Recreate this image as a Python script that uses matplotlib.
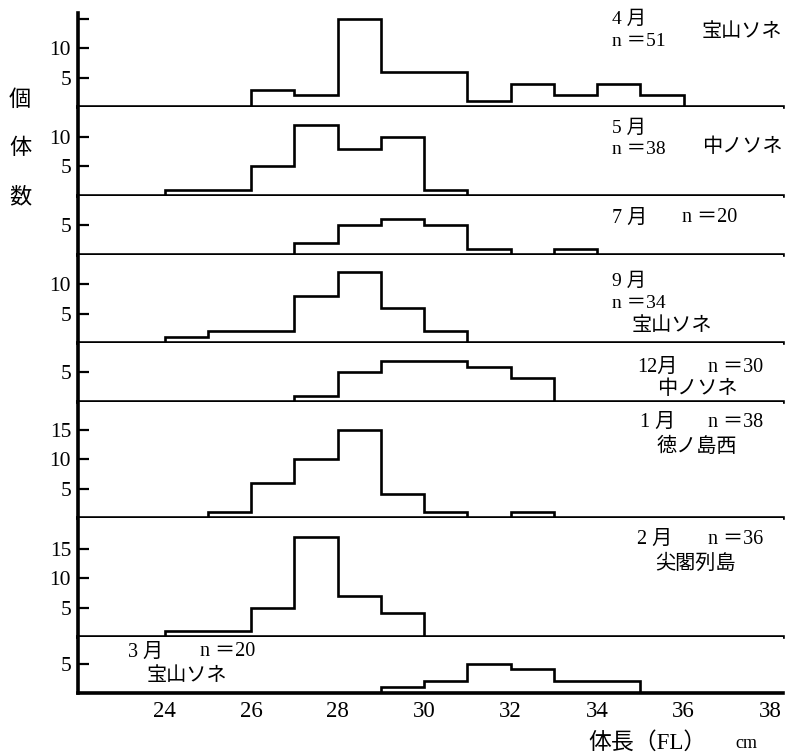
import numpy as np
import matplotlib
matplotlib.use("Agg")
import matplotlib.pyplot as plt

plt.rcParams['font.family'] = ['Liberation Serif', 'Noto Sans CJK JP', 'DejaVu Sans']

# histogram data: first bin left edge (cm) and counts per 1 cm bin
months = ["4 月", "5 月", "7 月", "9 月", "12月", "1 月", "2 月", "3 月"]
n_labels = ["n ＝51", "n ＝38", "n ＝20", "n ＝34", "n ＝30", "n ＝38", "n ＝36", "n ＝20"]
places = ["宝山ソネ", "中ノソネ", "", "宝山ソネ", "中ノソネ", "徳ノ島西", "尖閣列島", "宝山ソネ"]
starts = [26, 24, 27, 24, 27, 25, 24, 29]
counts = [
    [3, 2, 15, 6, 6, 1, 4, 2, 4, 2],
    [1, 1, 5, 12, 8, 10, 1],
    [2, 5, 6, 5, 1, 0, 1],
    [1, 2, 2, 8, 12, 6, 2],
    [1, 5, 7, 7, 6, 4],
    [1, 6, 10, 15, 4, 1, 0, 1],
    [1, 1, 5, 17, 7, 4],
    [1, 2, 5, 4, 2, 2],
]
ytops = [16, 15, 10, 15, 10, 19.7, 20.2, 9.5]
yticks = [[5, 10, 15], [5, 10], [5], [5, 10], [5], [5, 10, 15], [5, 10, 15], [5]]
xticks = [24, 26, 28, 30, 32, 34, 36, 38]

W, H = 798, 756
fig = plt.figure(figsize=(W / 100, H / 100), dpi=100)
gs = fig.add_gridspec(len(counts), 1, height_ratios=ytops, hspace=0,
                      left=78 / W, right=783 / W, top=1 - 13 / H, bottom=1 - 693 / H)

axes = []
for i in range(len(counts)):
    ax = fig.add_subplot(gs[i])
    edges = np.arange(starts[i], starts[i] + len(counts[i]) + 1)
    ax.stairs(counts[i], edges, baseline=0, color='black', lw=1.9)
    ax.set_xlim(22, 38.3)
    ax.set_ylim(0, ytops[i])
    for s in ['top', 'right']:
        ax.spines[s].set_visible(False)
    ax.spines['left'].set_linewidth(2.6)
    ax.spines['bottom'].set_linewidth(2.6)
    ax.set_yticks(yticks[i])
    ax.set_yticklabels(["" if (i == 0 and t == 15) else str(t) for t in yticks[i]])
    ax.tick_params(axis='y', direction='in', length=8, width=1.6, pad=5, labelsize=15.5)
    ax.tick_params(which='both', right=False, top=False)
    if i < len(counts) - 1:
        ax.set_xticks([])
    else:
        ax.set_xticks(xticks)
        ax.tick_params(axis='x', length=0, pad=6, labelsize=16.5)
    axes.append(ax)


def px(x, y, s, size=14.5, ha='left'):
    fig.text(x / W, 1 - y / H, s, fontsize=size, ha=ha, va='center')


# month / n / place labels (pixel positions of the reference)
px(612, 19, months[0], 14); px(612, 41, n_labels[0], 14); px(702, 33, places[0])
px(612, 128, months[1], 14); px(612, 150, n_labels[1], 14); px(702, 147, places[1])
px(612, 218, months[2]); px(682, 218, n_labels[2])
px(612, 281, months[3], 14); px(612, 303, n_labels[3], 14); px(632, 327, places[3])
px(637, 367, months[4]); px(708, 367, n_labels[4]); px(657, 389, places[4])
px(640, 422, months[5]); px(708, 422, n_labels[5]); px(657, 447, places[5])
px(637, 539, months[6]); px(708, 539, n_labels[6]); px(655, 564, places[6])
px(128, 652, months[7]); px(200, 652, n_labels[7]); px(147, 676, places[7])

# y axis label, stacked characters
for ch, y in zip("個体数", [101, 149, 198]):
    px(20, y, ch, 16, ha='center')

px(588, 743, "体長（FL）", 16.5)
px(735, 744, "cm", 13)

fig.savefig("out.png", dpi=100)
